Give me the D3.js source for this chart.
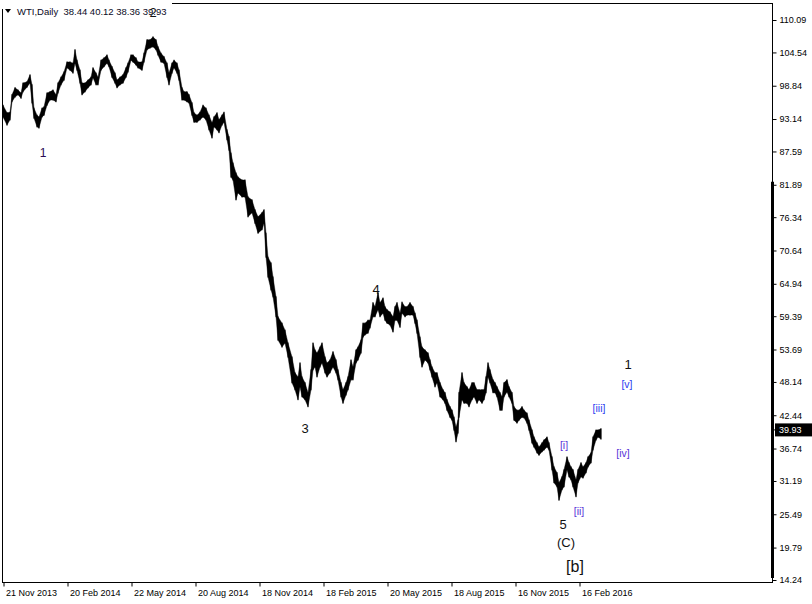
<!DOCTYPE html>
<html><head><meta charset="utf-8">
<script src="https://cdn.jsdelivr.net/npm/d3@7/dist/d3.min.js"></script>
<style>html,body{margin:0;padding:0;background:#fff;}svg{display:block;}</style>
</head><body>
<svg id="chart" width="812" height="604"></svg>
<script>
// ---- data (trading-day offset from 21 Nov 2013, high, low) ----
const days = [0,4,7,9,12,15,18,20,24,27,29,31,34,36,39,41,44,47,50,53,55,58,61,64,67,70,72,74,77,79,82,85,88,90,93,95,98,101,104,106,109,112,114,117,120,123,125,128,130,133,135,139,141,144,147,150,153,155,158,161,164,166,169,171,174,176,179,181,184,186,189,191,194,197,200,203,206,209,211,214,216,219,221,224,226,228,230,233,235,239,242,245,249,252,255,259,261,263,265,268,270,273,275,279,282,285,289,292,295,297,299,302,305,308,310,312,314,317,319,322,324,327,330,333,335,338,340,343,345,348,350,353,355,358,360,362,365,367,370,372,375,377,380,382,384,387,390,392,394,397,399,402,404,407,410,412,414,417,419,422,425,427,429,432,434,437,440,442,444,447,449,451,453,455,456,459,461,464,466,469,471,474,476,479,481,483,485,487,490,492,494,497,499,501,504,506,509,511,514,516,519,521,524,526,529,531,534,536,539,541,544,546,549,551,554,556,559,561,564,566,568,570,573,575,578,580,583,585,588,590,593,595,598];
const highs = [95.5,94.2,94.3,97.3,98.5,98.1,97.6,99.3,99.5,100.7,99.0,95.0,93.8,93.5,95.0,95.2,97.6,97.8,98.1,97.3,99.3,100.3,101.2,102.9,102.9,102.7,105.0,103.2,101.5,99.3,99.3,99.8,100.3,101.9,101.0,100.3,103.2,103.6,104.1,103.2,102.1,101.0,99.8,100.3,100.7,101.9,102.7,104.1,104.1,103.6,102.9,102.9,104.4,106.7,106.7,107.2,106.7,105.5,104.4,103.8,102.7,101.0,102.7,103.2,102.7,101.5,98.5,97.8,97.8,97.3,95.9,94.2,93.8,94.3,95.5,95.0,93.8,92.5,93.5,94.2,93.0,93.8,94.3,91.3,90.1,87.3,85.6,83.9,83.2,82.7,82.7,79.8,79.3,77.6,76.4,77.1,77.6,73.6,69.5,68.5,66.1,62.7,59.3,58.2,57.0,54.8,52.4,49.7,49.0,51.4,49.0,48.0,46.3,50.2,54.8,53.6,53.1,54.1,54.8,52.4,51.4,51.9,53.3,51.9,50.2,48.0,46.8,48.0,49.0,51.9,50.7,53.6,54.1,55.3,58.2,58.2,58.7,58.7,61.7,61.0,63.4,61.7,62.5,61.0,60.5,60.1,59.3,61.0,61.7,59.9,61.8,61.0,61.0,61.7,61.0,59.9,58.7,55.8,54.1,53.6,53.1,51.9,50.7,49.7,49.7,48.0,46.8,46.3,45.1,43.9,43.3,42.1,40.4,41.6,46.3,49.7,48.0,47.3,46.8,48.0,48.0,46.8,46.8,46.8,46.8,49.0,51.4,50.2,48.5,48.0,47.3,46.3,45.6,48.0,48.5,47.3,46.3,43.9,43.3,43.3,43.9,43.3,42.8,41.6,39.9,38.7,37.7,37.0,37.7,38.2,38.7,37.7,35.3,33.6,32.6,30.9,31.9,33.1,35.3,34.3,33.6,33.1,31.4,33.1,34.3,33.6,34.3,35.3,36.0,38.7,39.9,39.9,40.12];
const lows = [93.5,92.1,93.0,96.1,96.9,97.3,96.7,97.8,98.6,99.3,95.9,93.3,91.8,91.6,93.5,93.8,95.5,96.4,96.4,96.1,97.6,99.0,99.8,101.9,101.5,101.0,102.7,101.5,99.3,97.3,97.8,98.5,99.0,100.2,99.0,99.0,101.5,102.1,102.7,102.1,100.3,99.3,98.5,99.0,99.3,100.3,101.2,103.2,102.9,102.4,101.9,101.5,102.9,105.0,105.3,105.5,105.0,104.1,102.9,102.7,100.3,99.0,101.0,101.9,101.0,99.8,96.4,96.4,96.1,95.9,93.8,92.6,92.6,93.0,93.5,93.0,91.3,89.9,91.8,91.3,90.8,92.1,92.6,89.6,87.8,83.2,82.7,79.3,80.5,79.8,79.8,76.4,77.1,75.3,73.6,74.2,75.3,69.5,66.1,63.9,62.7,59.3,55.3,54.1,54.8,52.4,48.0,46.8,45.1,47.3,45.6,45.1,43.9,46.8,50.2,50.7,49.0,50.7,51.4,49.7,49.0,49.7,50.7,49.7,48.5,45.6,44.5,45.9,46.8,48.5,48.5,51.4,51.9,53.1,55.8,56.2,56.5,57.4,59.3,59.3,60.5,59.3,59.9,58.7,58.2,57.9,56.7,58.7,58.7,57.5,59.9,59.3,59.6,59.6,59.6,58.2,56.5,52.4,50.7,51.9,51.4,50.2,49.0,47.3,48.0,45.6,45.1,44.5,43.3,42.1,41.6,39.9,37.9,39.4,42.1,45.1,44.5,44.5,43.9,45.1,45.6,44.5,45.1,44.5,45.1,46.3,49.0,48.0,46.3,46.3,45.6,43.3,43.3,45.6,46.4,45.6,44.5,41.6,41.1,41.6,42.1,42.0,41.1,39.9,37.7,37.0,36.0,35.6,36.2,36.5,37.0,36.5,33.1,30.9,30.2,27.9,29.7,30.2,33.1,31.9,31.4,30.2,28.5,30.9,31.9,31.7,32.6,33.6,34.3,36.5,38.2,38.7,38.36];

const header = "WTI,Daily  38.44 40.12 38.36 39.93";
const lastClose = 39.93;
const priceTicks = [110.09,104.54,98.84,93.14,87.59,81.89,76.34,70.64,64.94,59.39,53.69,48.14,42.44,36.74,31.19,25.49,19.79,14.24];
const dateTickDays = [0,64,128,192,256,320,384,448,512,576];
const dateTickLabels = ["21 Nov 2013","20 Feb 2014","22 May 2014","20 Aug 2014","18 Nov 2014","18 Feb 2015","20 May 2015","18 Aug 2015","16 Nov 2015","16 Feb 2016"];
// Elliott wave labels: [text, day offset, price, kind]
const waveLabels = [
  ["1", 40, 87.3, "p"],
  ["2", 150, 111.4, "k"],
  ["3", 302, 40.1, "k"],
  ["4", 373, 63.9, "k"],
  ["5", 560, 23.8, "k"],
  ["(C)", 563, 20.6, "k"],
  ["[b]", 572, 16.5, "kb"],
  ["1", 625, 51.2, "k"],
  ["[v]", 624, 47.8, "b"],
  ["[iii]", 596, 43.7, "b"],
  ["[i]", 561, 37.35, "v"],
  ["[iv]", 620, 36.0, "v"],
  ["[ii]", 576, 26.05, "v"]
];

// ---- scales ----
const svg = d3.select("#chart");
const font = "'Liberation Sans', Arial, sans-serif";
const x = d3.scaleLinear().domain([0, 576]).range([3, 579]);
const y = d3.scaleLinear().domain([14.24, 110.09]).range([580, 20]);
const L = 2, R = 772, T = 3, B = 582;

const data = days.map((d, i) => ({d, h: highs[i], l: lows[i]}));

// frame
svg.append("rect").attr("x", L + 0.5).attr("y", T + 0.5).attr("width", R - L).attr("height", B - T)
  .attr("fill", "none").attr("stroke", "#000").attr("stroke-width", 1);

// price band
const area = d3.area().x(p => x(p.d)).y0(p => y(p.l)).y1(p => y(p.h)).curve(d3.curveLinear);
svg.append("path").datum(data).attr("d", area).attr("fill", "#000").attr("stroke", "#000").attr("stroke-width", 0.4);
svg.append("g").selectAll("line").data(data).join("line")
  .attr("x1", p => x(p.d)).attr("x2", p => x(p.d))
  .attr("y1", p => y(p.h) - 0.5).attr("y2", p => y(p.l) + 0.5)
  .attr("stroke", "#000").attr("stroke-width", 1);

// header box covering the frame
svg.append("rect").attr("x", 0).attr("y", 0).attr("width", 172).attr("height", 9).attr("fill", "#fff");
svg.append("path").attr("d", "M5,9 L11,9 L8,13 Z").attr("fill", "#000");
svg.append("text").attr("x", 17).attr("y", 15).attr("font-family", font).attr("font-size", 9.5)
  .attr("fill", "#0a0a1e").attr("xml:space", "preserve").style("white-space", "pre").text(header);

// right axis
const yAxis = d3.axisRight(y).tickValues(priceTicks).tickSize(4).tickPadding(3).tickFormat(d3.format(".2f"));
const ya = svg.append("g").attr("transform", `translate(${R + 0.5},0)`).call(yAxis);
ya.select(".domain").remove();
ya.selectAll("text").attr("font-family", font).attr("font-size", 9).attr("fill", "#000");
ya.selectAll("line").attr("stroke", "#000");
// thick scale bar
svg.append("rect").attr("x", R - 1).attr("y", y(81.89) - 3).attr("width", 3).attr("height", y(14.24) - y(81.89) + 1).attr("fill", "#000");

// current price label
svg.append("rect").attr("x", R + 3).attr("y", y(lastClose) - 6.5).attr("width", 37).attr("height", 13).attr("fill", "#000");
svg.append("line").attr("x1", R).attr("x2", R + 4).attr("y1", y(lastClose)).attr("y2", y(lastClose)).attr("stroke", "#000");
svg.append("text").attr("x", R + 7).attr("y", y(lastClose)).attr("dy", "0.34em").attr("font-family", font)
  .attr("font-size", 9).attr("fill", "#fff").text(d3.format(".2f")(lastClose));

// bottom axis
const xAxis = d3.axisBottom(x).tickValues(dateTickDays).tickSize(4).tickPadding(3)
  .tickFormat((d, i) => dateTickLabels[i]);
const xa = svg.append("g").attr("transform", `translate(0.5,${B + 0.5})`).call(xAxis);
xa.select(".domain").remove();
xa.selectAll("line").attr("stroke", "#000");
xa.selectAll("text").attr("font-family", font).attr("font-size", 9).attr("fill", "#000")
  .attr("text-anchor", "start").attr("x", 2);

// wave labels
const styles = {
  p: {fill: "#2b0a55", size: 12},
  k: {fill: "#111", size: 13},
  kb: {fill: "#111", size: 16},
  b: {fill: "#2a3cf0", size: 10.5},
  v: {fill: "#5a34d8", size: 10.5}
};
svg.append("g").selectAll("text").data(waveLabels).join("text")
  .attr("x", w => x(w[1])).attr("y", w => y(w[2])).attr("dy", "0.35em")
  .attr("text-anchor", "middle")
  .attr("font-family", font)
  .attr("font-size", w => styles[w[3]].size).attr("fill", w => styles[w[3]].fill)
  .text(w => w[0]);
</script>
</body></html>
